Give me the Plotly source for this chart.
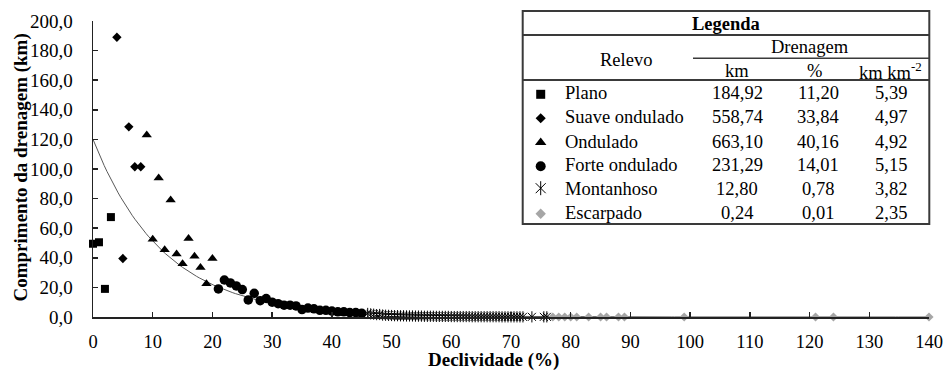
import plotly.graph_objects as go
import numpy as np

# ---------------- data ----------------
plano_x = [0, 1, 2, 3]
plano_y = [49.5, 50.5, 19.0, 67.5]

suave_x = [4, 5, 6, 7, 8]
suave_y = [189.0, 39.5, 128.5, 101.5, 101.5]

ond_x = [9, 10, 11, 12, 13, 14, 15, 16, 17, 18, 19, 20]
ond_y = [123.0, 52.5, 94.0, 45.5, 79.0, 42.5, 36.0, 53.0, 41.0, 33.5, 22.5, 39.5]

forte_x = [21, 22, 23, 24, 25, 26, 27, 28, 29, 30, 31, 32, 33, 34, 35,
           36, 37, 38, 39, 40, 41, 42, 43, 44, 45]
forte_y = [19.0, 25.0, 23.0, 21.0, 18.5, 11.5, 16.0, 11.0, 12.5, 10.0, 9.0, 8.0, 8.0, 7.5, 5.0,
           6.0, 5.5, 4.5, 4.5, 4.0, 3.5, 3.5, 3.0, 3.0, 2.5]

mont_x = [46, 46.5, 47, 47.5, 48, 48.5, 49, 49.5, 50, 50.5,
          51, 51.5, 52, 52.5, 53, 53.5, 54, 54.5, 55, 55.5,
          56, 56.5, 57, 57.5, 58, 58.5, 59, 59.5, 60, 60.5,
          61, 61.5, 62, 62.5, 63, 63.5, 64, 64.5, 65, 65.5,
          66, 66.5, 67, 67.5, 68, 68.5, 69, 69.5, 70, 70.5,
          71, 71.5, 72, 73.5, 75.5, 76]
mont_y = [2.4, 2.1, 1.9, 1.6, 1.7, 1.3, 1.2, 1.1, 1.0, 0.9,
          0.9, 0.8, 0.8, 0.7, 0.7, 0.7, 0.6, 0.6, 0.6, 0.5,
          0.5, 0.5, 0.5, 0.4, 0.4, 0.4, 0.4, 0.4, 0.3, 0.3,
          0.3, 0.3, 0.3, 0.3, 0.3, 0.2, 0.2, 0.2, 0.2, 0.2,
          0.2, 0.2, 0.2, 0.2, 0.2, 0.1, 0.1, 0.1, 0.1, 0.1,
          0.1, 0.1, 0.1, 0.1, 0.1, 0.1]

esc_x = [77, 78, 79, 80, 81, 83, 85, 86, 88, 89, 99, 121, 124, 140]
esc_y = [0.05, 0.05, 0.04, 0.04, 0.03, 0.03, 0.03, 0.02, 0.02, 0.02, 0.01, 0.01, 0.01, 0.01]

# exponential trendline coefficients (y = a * exp(-b x))
trend_a = 120.0
trend_b = 0.085

x_ticks = [0, 10, 20, 30, 40, 50, 60, 70, 80, 90, 100, 110, 120, 130, 140]
y_ticks = [0, 20, 40, 60, 80, 100, 120, 140, 160, 180, 200]
y_ticktext = [f"{v:.1f}".replace(".", ",") for v in y_ticks]

# legend table content
leg_names = ["Plano", "Suave ondulado", "Ondulado", "Forte ondulado", "Montanhoso", "Escarpado"]
leg_km = ["184,92", "558,74", "663,10", "231,29", "12,80", "0,24"]
leg_pct = ["11,20", "33,84", "40,16", "14,01", "0,78", "0,01"]
leg_dens = ["5,39", "4,97", "4,92", "5,15", "3,82", "2,35"]

FONT = "Liberation Serif"
BLACK = "#000000"
GRAY = "#a6a6a6"

fig = go.Figure()

tx = np.linspace(0, 140, 300)
fig.add_trace(go.Scatter(x=tx, y=trend_a * np.exp(-trend_b * tx), mode="lines",
                         line=dict(color="#595959", width=1), hoverinfo="skip"))

def add_series(x, y, symbol, size, color, xa="x", ya="y"):
    fig.add_trace(go.Scatter(x=x, y=y, mode="markers", cliponaxis=False,
                             xaxis=xa, yaxis=ya,
                             marker=dict(symbol=symbol, size=size, color=color,
                                         line=dict(width=0))))

def add_aster(x, y, size, xa="x", ya="y"):
    for sym in ["x-thin-open", "line-ns-open"]:
        fig.add_trace(go.Scatter(x=x, y=y, mode="markers", cliponaxis=False,
                                 xaxis=xa, yaxis=ya,
                                 marker=dict(symbol=sym, size=size, color=BLACK,
                                             line=dict(width=1, color=BLACK))))

add_series(esc_x, esc_y, "diamond", 7, GRAY)
add_aster(mont_x, mont_y, 8)
add_series(forte_x, forte_y, "circle", 9.5, BLACK)
add_series(ond_x, ond_y, "triangle-up", 9, BLACK)
add_series(suave_x, suave_y, "diamond", 7.2, BLACK)
add_series(plano_x, plano_y, "square", 8, BLACK)

# ---- layout in page pixels (body margin removed by post_script) ----
X0, X1, YB, YT = 93.0, 929.0, 317.0, 21.0
W, H = 944, 371
def pxp(x):
    return (x - X0) / (X1 - X0)
def pyp(y):
    return (YB - y) / (YB - YT)

row_y = [93.3, 117.3, 141.5, 165.2, 189.2, 212.7]
mk_x = 540.7

leg_syms = [("square", 9, BLACK), ("diamond", 7.8, BLACK), ("triangle-up", 10, BLACK),
            ("circle", 10, BLACK), None, ("diamond", 8, GRAY)]
for i, s in enumerate(leg_syms):
    if s is None:
        add_aster([mk_x], [row_y[i] - 1], 10, xa="x2", ya="y2")
    else:
        add_series([mk_x], [row_y[i] + 1], s[0], s[1], s[2], xa="x2", ya="y2")

shapes = []
lc = "#3a3a3a"
shapes.append(dict(type="rect", xref="paper", yref="paper",
                   x0=pxp(522.7), x1=pxp(929.3), y0=pyp(224), y1=pyp(11),
                   line=dict(color=lc, width=2), fillcolor="white", layer="below"))
for (xa, xb, yy, w) in [(522.7, 929.3, 35, 2), (693, 929.3, 58.3, 1.5), (522.7, 929.3, 80, 2)]:
    shapes.append(dict(type="line", xref="paper", yref="paper",
                       x0=pxp(xa), x1=pxp(xb), y0=pyp(yy), y1=pyp(yy),
                       line=dict(color=lc, width=w)))

ann = []
def txt(x, y, t, anchor="center", bold=False, size=18.5):
    ann.append(dict(x=pxp(x), y=pyp(y), xref="paper", yref="paper", text=(f"<b>{t}</b>" if bold else t),
                    showarrow=False, xanchor=anchor, yanchor="middle",
                    font=dict(family=FONT, size=size, color=BLACK)))

txt(725.7, 23.5, "Legenda", bold=True)
txt(626, 60, "Relevo")
txt(810, 47.5, "Drenagem")
txt(737, 70.5, "km")
txt(814, 70.5, "%")
txt(890, 70.5, "km km<sup>-2</sup>")
for i in range(6):
    txt(563, row_y[i], leg_names[i], anchor="left")
    txt(737, row_y[i], leg_km[i])
    txt(818, row_y[i], leg_pct[i])
    txt(891, row_y[i], leg_dens[i])

# axis titles
ann.append(dict(x=pxp(493.5), y=pyp(360), xref="paper", yref="paper",
                text="<b>Declividade (%)</b>", showarrow=False, xanchor="center", yanchor="middle",
                font=dict(family=FONT, size=19, color=BLACK)))
ann.append(dict(x=pxp(20.5), y=pyp(168), xref="paper", yref="paper",
                text="<b>Comprimento da drenagem (km)</b>", showarrow=False, textangle=-90,
                xanchor="center", yanchor="middle",
                font=dict(family=FONT, size=19, color=BLACK)))

fig.update_layout(
    width=W, height=H,
    margin=dict(l=X0, r=W - X1, t=YT, b=H - YB, autoexpand=False),
    paper_bgcolor="white", plot_bgcolor="white",
    showlegend=False, hovermode=False,
    font=dict(family=FONT, size=19, color=BLACK),
    shapes=shapes, annotations=ann,
    xaxis=dict(range=[0, 140], tickvals=x_ticks, ticktext=[str(v) for v in x_ticks],
               showgrid=False, zeroline=False, showline=True, linecolor="#222222", linewidth=1.5,
               ticks="inside", ticklen=5, tickwidth=1.5, tickcolor="#222222",
               ticklabelstandoff=7, ticklabeloverflow="allow",
               tickfont=dict(family=FONT, size=18.5, color=BLACK)),
    yaxis=dict(range=[0, 200], tickvals=y_ticks, ticktext=y_ticktext,
               showgrid=False, zeroline=False, showline=True, linecolor="#222222", linewidth=1.5,
               ticks="inside", ticklen=5, tickwidth=1.5, tickcolor="#222222",
               ticklabelstandoff=15, ticklabeloverflow="allow",
               tickfont=dict(family=FONT, size=19, color=BLACK)),
    xaxis2=dict(overlaying="x", range=[X0, X1], visible=False, showgrid=False),
    yaxis2=dict(overlaying="y", range=[YB, YT], visible=False, showgrid=False),
)

fig.write_html("out.html",
               config={"displayModeBar": False, "staticPlot": True},
               post_script="document.body.style.margin='0';document.body.style.overflow='hidden';")
